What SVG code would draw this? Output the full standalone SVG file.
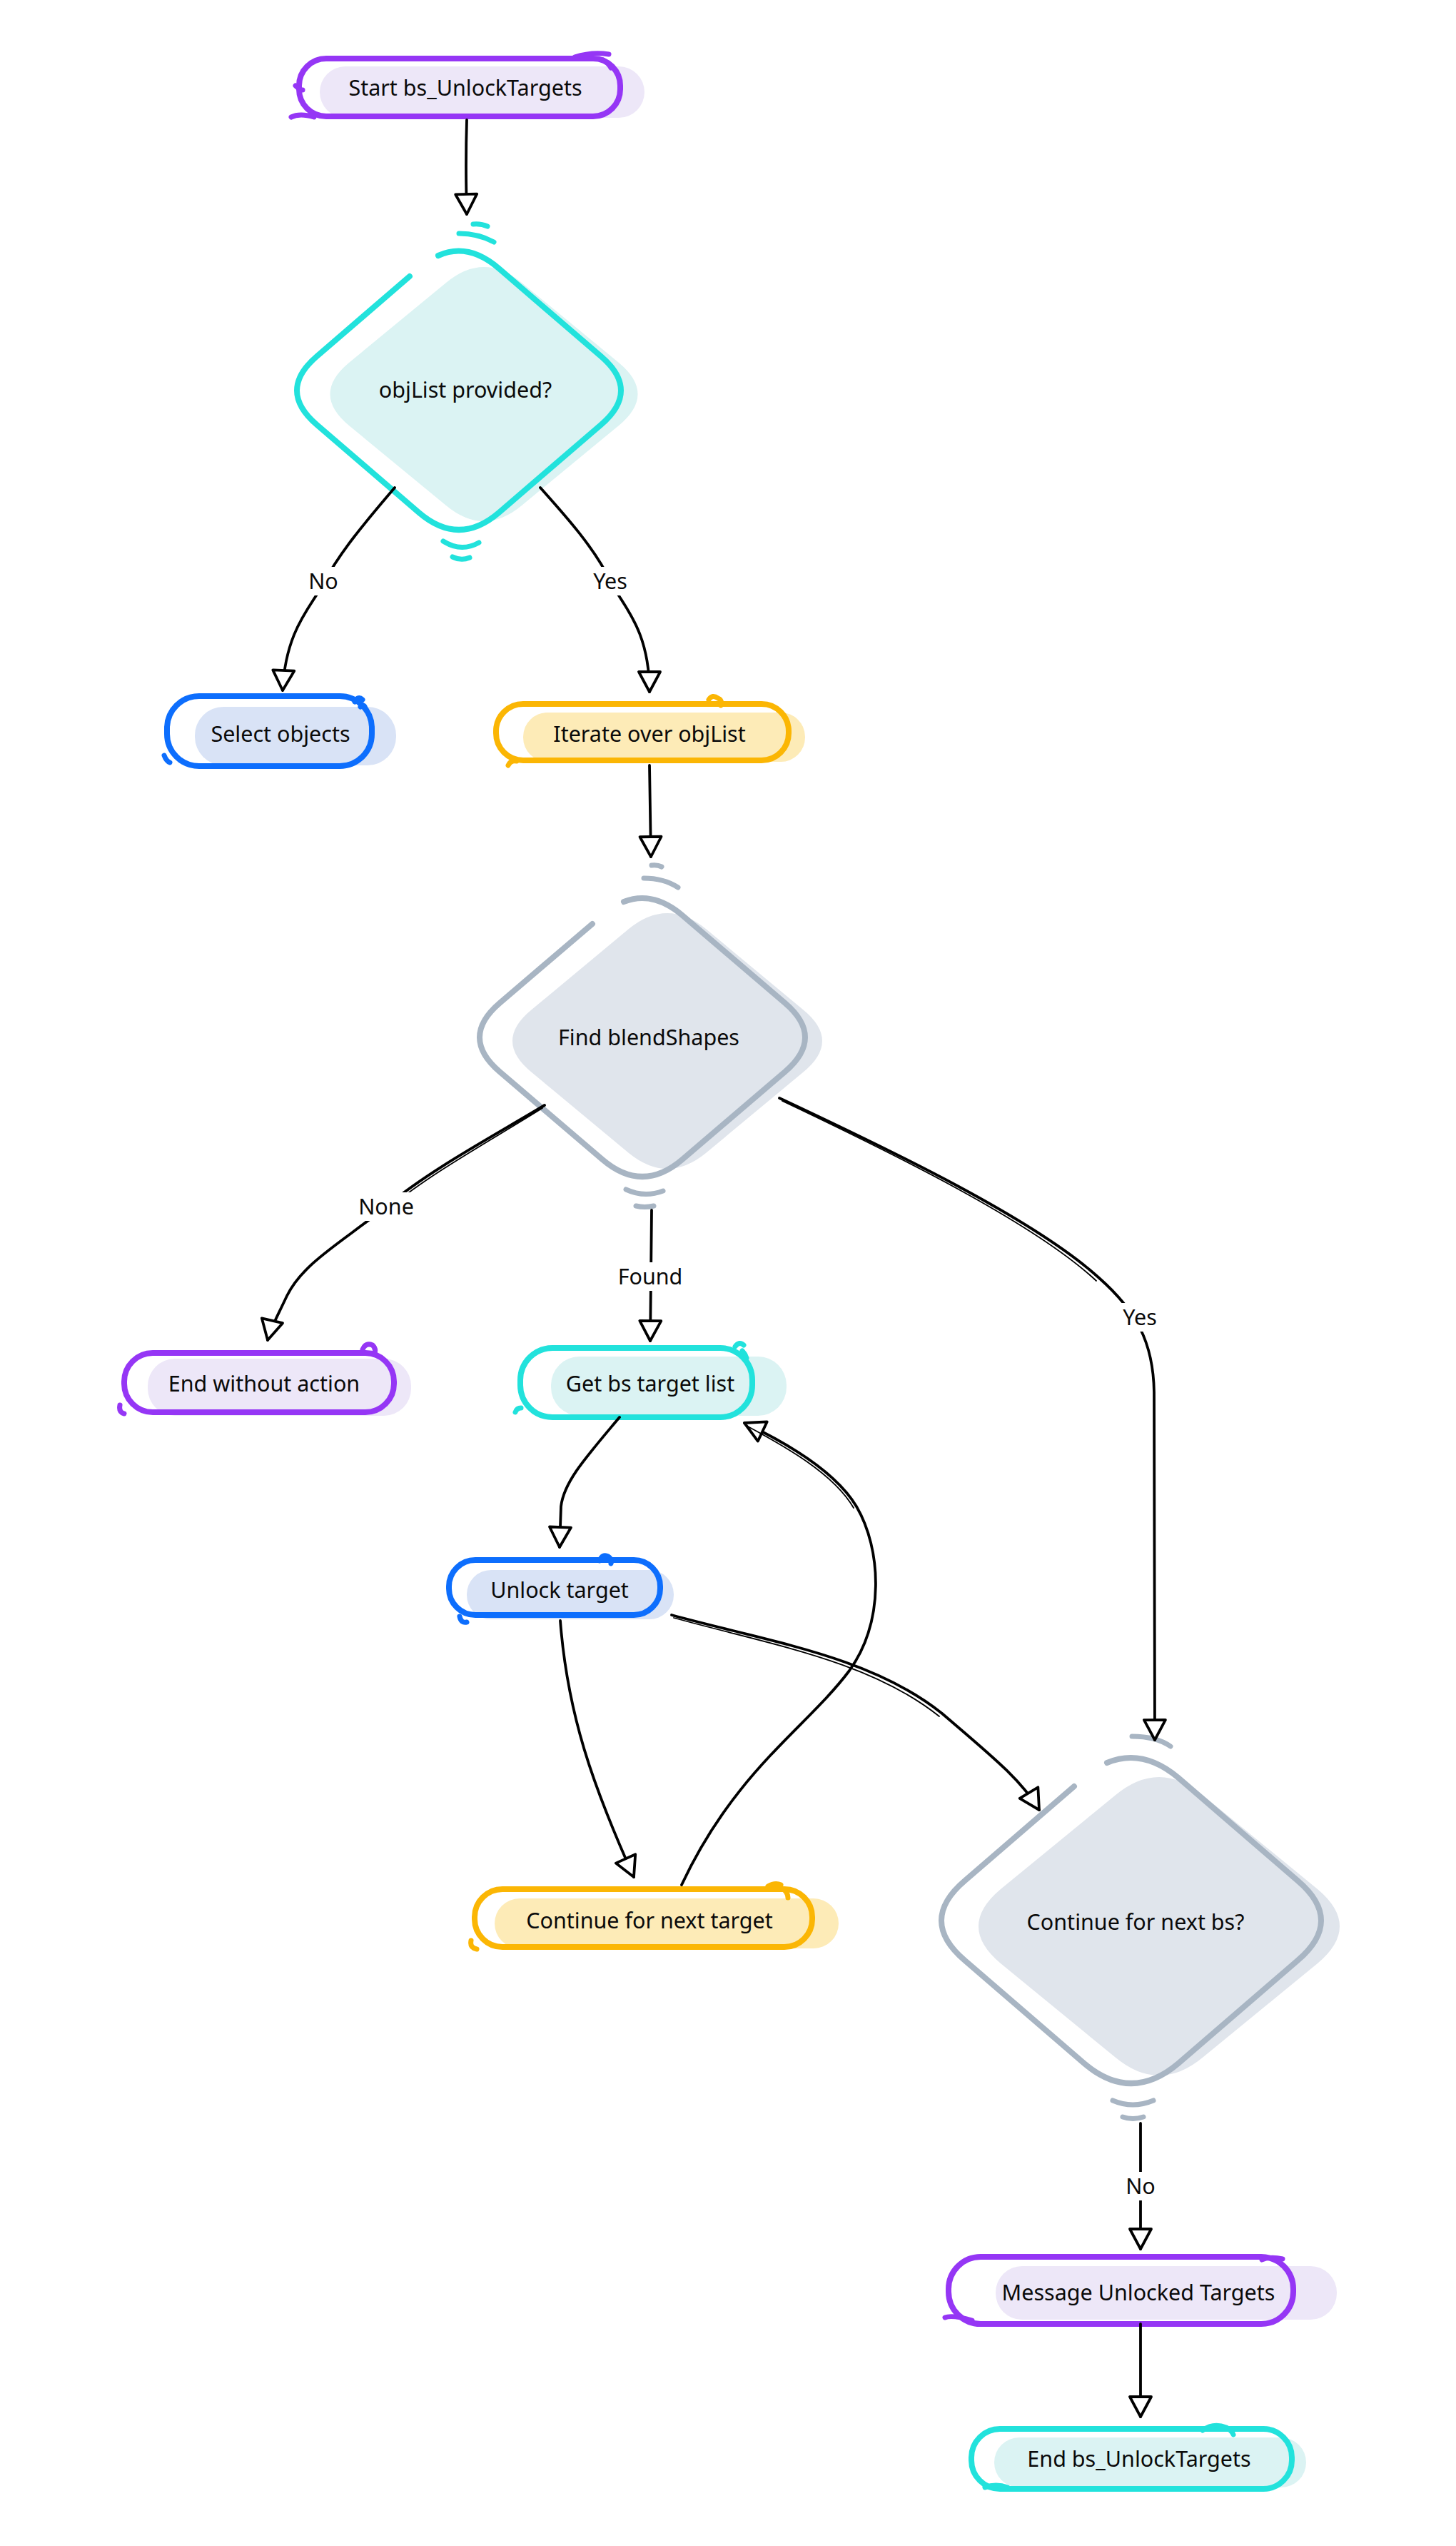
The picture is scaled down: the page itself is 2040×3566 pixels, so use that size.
<svg xmlns="http://www.w3.org/2000/svg" width="2040" height="3566" viewBox="0 0 2040 3566">
<defs>
<style>
.t{font-family:"Noto Sans","Open Sans","DejaVu Sans",sans-serif;font-size:30.5px;fill:#0a0a0a;text-anchor:middle}
.lbl{font-family:"Noto Sans","Open Sans","DejaVu Sans",sans-serif;font-size:30.5px;fill:#0a0a0a;text-anchor:middle}
.c{fill:none;stroke:#000;stroke-width:3.8;stroke-linecap:round;stroke-linejoin:round;marker-end:url(#ah)}
.c2{fill:none;stroke:#000;stroke-width:1.8;stroke-linecap:round}
.o{fill:none;stroke-width:8;stroke-linecap:round;stroke-linejoin:round}
.m{fill:none;stroke-width:7;stroke-linecap:round}
.purple .o,.purple .m{stroke:#9536f5}.purple .f{fill:#ede7f8}
.cyan .o,.cyan .m{stroke:#22e2dc}.cyan .f{fill:#dbf3f3}
.blue .o,.blue .m{stroke:#0d6efd}.blue .f{fill:#d9e3f6}
.yellow .o,.yellow .m{stroke:#fbb604}.yellow .f{fill:#fdebb7}
.gray .o,.gray .m{stroke:#a8b5c3}.gray .f{fill:#e0e5ec}
.lb{fill:#fff}
</style>
<marker id="ah" viewBox="0 0 34 36" refX="31" refY="18" markerWidth="34" markerHeight="36" markerUnits="userSpaceOnUse" orient="auto">
<path d="M3,3 L31,18 L3,33 Z" fill="#fff" stroke="#000" stroke-width="3.8" stroke-linejoin="round"/>
</marker>
</defs>
<rect width="2040" height="3566" fill="#fff"/>

<g id="n-start" class="purple">
<rect class="f" x="448" y="93" width="455" height="72" rx="36"/>
<rect class="o" x="419" y="82" width="450" height="81" rx="38"/>
<path class="m" d="M805,80 Q830,72 853,76 M845,84 Q852,88 856,95 M414,120 Q420,126 424,126 M408,164 Q420,158 440,164"/>
<text class="t" x="652" y="134">Start bs_UnlockTargets</text>
</g>

<g id="n-objlist" class="cyan">
<path class="f" d="M731,396 L867,508 Q920,552 867,596 L731,708 Q678,752 625,708 L489,596 Q436,552 489,508 L625,396 Q678,352 731,396 Z"/>
<path class="o" d="M614,358 Q656,339 699,376 L842,499 Q898,547 842,595 L699,718 Q643,766 587,718 L444,595 Q388,547 444,499 L574,387"/>
<path class="m" d="M663,314 Q674,313 683,317 M643,327 Q670,327 692,339 M621,758 Q646,774 671,760 M634,780 Q646,786 658,781"/>
<text class="t" x="652" y="557">objList provided?</text>
</g>

<g id="n-select" class="blue">
<rect class="f" x="273" y="990" width="282" height="82" rx="40"/>
<rect class="o" x="234" y="975" width="287" height="98" rx="45"/>
<path class="m" d="M497,983 Q502,974 508,980 M505,990 Q510,985 512,992 M230,1058 Q233,1066 238,1068"/>
<text class="t" x="393" y="1039">Select objects</text>
</g>

<g id="n-iterate" class="yellow">
<rect class="f" x="733" y="998" width="395" height="69" rx="34"/>
<rect class="o" x="695" y="986" width="410" height="79" rx="38"/>
<path class="m" d="M993,980 Q998,972 1006,978 Q1012,980 1010,988 M712,1072 Q716,1064 724,1066"/>
<text class="t" x="910" y="1039">Iterate over objList</text>
</g>

<g id="n-find" class="gray">
<path class="f" d="M989,1301 L1125,1414 Q1179,1458 1125,1502 L989,1615 Q935,1659 881,1615 L745,1502 Q691,1458 745,1414 L881,1301 Q935,1257 989,1301 Z"/>
<path class="o" d="M874,1263 Q915,1247 956,1282 L1100,1405 Q1156,1453 1100,1501 L956,1624 Q900,1672 844,1624 L700,1501 Q644,1453 700,1405 L830,1294"/>
<path class="m" d="M913,1212 Q921,1211 927,1214 M902,1230 Q930,1230 950,1243 M877,1666 Q903,1678 929,1668 M891,1689 Q903,1692 916,1689"/>
<text class="t" x="909" y="1464">Find blendShapes</text>
</g>

<g id="n-endnoaction" class="purple">
<rect class="f" x="207" y="1903" width="369" height="80" rx="38"/>
<rect class="o" x="174" y="1895" width="378" height="83" rx="40"/>
<path class="m" d="M508,1890 Q512,1880 522,1884 Q528,1890 524,1897 M168,1968 Q166,1978 174,1980"/>
<text class="t" x="370" y="1949">End without action</text>
</g>

<g id="n-getbs" class="cyan">
<rect class="f" x="772" y="1900" width="330" height="83" rx="40"/>
<rect class="o" x="729" y="1888" width="325" height="97" rx="45"/>
<path class="m" d="M1030,1886 Q1036,1878 1042,1884 M1040,1892 Q1044,1896 1046,1902 M722,1978 Q724,1972 730,1972"/>
<text class="t" x="911" y="1949">Get bs target list</text>
</g>

<g id="n-unlock" class="blue">
<rect class="f" x="654" y="2199" width="290" height="69" rx="34"/>
<rect class="o" x="629" y="2185" width="296" height="77" rx="37"/>
<path class="m" d="M840,2186 Q844,2176 852,2180 Q858,2184 856,2190 M644,2264 Q646,2274 654,2272"/>
<text class="t" x="784" y="2238">Unlock target</text>
</g>

<g id="n-conttarget" class="yellow">
<rect class="f" x="693" y="2659" width="482" height="70" rx="35"/>
<rect class="o" x="665" y="2646" width="473" height="81" rx="39"/>
<path class="m" d="M1076,2642 Q1086,2636 1094,2640 M1096,2645 Q1104,2650 1104,2658 M660,2718 Q658,2728 668,2730"/>
<text class="t" x="910" y="2701">Continue for next target</text>
</g>

<g id="n-contbs" class="gray">
<path class="f" d="M1686,2515 L1846,2646 Q1908,2698 1846,2750 L1686,2881 Q1624,2933 1562,2881 L1402,2750 Q1340,2698 1402,2646 L1562,2515 Q1624,2463 1686,2515 Z"/>
<path class="o" d="M1551,2469 Q1601,2448 1651,2490 L1818,2634 Q1884,2690 1818,2746 L1651,2890 Q1585,2946 1519,2890 L1352,2746 Q1286,2690 1352,2634 L1505,2502"/>
<path class="m" d="M1586,2432 Q1620,2432 1640,2446 M1559,2942 Q1587,2954 1616,2942 M1573,2965 Q1587,2970 1602,2965"/>
<text class="t" x="1591" y="2703">Continue for next bs?</text>
</g>

<g id="n-message" class="purple">
<rect class="f" x="1395" y="3174" width="478" height="75" rx="37"/>
<rect class="o" x="1329" y="3161" width="483" height="94" rx="45"/>
<path class="m" d="M1768,3165 Q1780,3160 1797,3164 M1324,3246 Q1334,3242 1362,3250"/>
<text class="t" x="1595" y="3222">Message Unlocked Targets</text>
</g>

<g id="n-end" class="cyan">
<rect class="f" x="1393" y="3414" width="437" height="70" rx="35"/>
<rect class="o" x="1361" y="3402" width="449" height="84" rx="40"/>
<path class="m" d="M1685,3404 Q1700,3393 1718,3400 Q1726,3404 1728,3410 M1380,3484 Q1395,3478 1412,3484"/>
<text class="t" x="1596" y="3455">End bs_UnlockTargets</text>
</g>

<g id="connectors">
<path class="c" d="M654,168 Q652,230 654,300"/>
<path class="c" d="M553,683 C520,722 478,770 455,814 C438,848 400,880 396,967"/>
<path class="c" d="M757,683 C792,722 835,770 855,814 C872,848 910,880 910,969"/>
<path class="c" d="M910,1072 Q911,1140 912,1200"/>
<path class="c" d="M763,1548 C690,1592 600,1640 541,1690 C482,1738 425,1768 402,1815 C388,1845 379,1860 375,1877"/>
<path class="c2" d="M760,1552 C690,1596 602,1644 545,1692"/>
<path class="c" d="M913,1695 L912,1790 L911,1878"/>
<path class="c" d="M1092,1538 C1250,1612 1450,1708 1540,1790 C1592,1836 1616,1880 1617,1950 L1618,2437"/>
<path class="c2" d="M1096,1542 C1252,1616 1448,1712 1536,1794"/>
<path class="c" d="M868,1985 C822,2040 790,2075 786,2110 L784,2167"/>
<path class="c" d="M785,2270 C795,2400 830,2500 888,2629"/>
<path class="c" d="M955,2640 C1030,2480 1130,2420 1190,2340 C1240,2270 1235,2170 1200,2110 C1170,2060 1100,2020 1043,1993"/>
<path class="c2" d="M1196,2112 C1168,2064 1100,2026 1048,1998"/>
<path class="c" d="M941,2262 C1080,2300 1220,2320 1320,2400 C1390,2460 1430,2492 1456,2535"/>
<path class="c2" d="M944,2266 C1082,2304 1218,2326 1316,2404"/>
<path class="c" d="M1598,2974 L1598,3150"/>
<path class="c" d="M1598,3255 L1598,3385"/>
</g>

<g id="labels">
<rect class="lb" x="429" y="794" width="48" height="40"/>
<text class="lbl" x="453" y="825">No</text>
<rect class="lb" x="826" y="794" width="58" height="40"/>
<text class="lbl" x="855" y="825">Yes</text>
<rect class="lb" x="503" y="1670" width="76" height="40"/>
<text class="lbl" x="541" y="1701">None</text>
<rect class="lb" x="865" y="1768" width="92" height="40"/>
<text class="lbl" x="911" y="1799">Found</text>
<rect class="lb" x="1568" y="1825" width="58" height="40"/>
<text class="lbl" x="1597" y="1856">Yes</text>
<rect class="lb" x="1574" y="3042" width="48" height="40"/>
<text class="lbl" x="1598" y="3073">No</text>
</g>
</svg>
